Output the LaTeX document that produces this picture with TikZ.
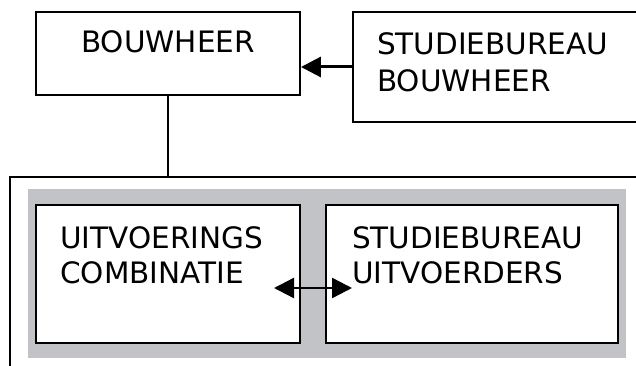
\documentclass[tikz,border=0pt]{standalone}
\usepackage{fontspec}
\setmainfont{DejaVu Sans}
\usetikzlibrary{arrows.meta,positioning}
\definecolor{vakgrijs}{RGB}{194,195,198}

\begin{document}
\begin{tikzpicture}[x=1pt,y=-1pt,
    kader/.style={draw,line width=1.9pt,fill=white,inner sep=0pt},
    tekst/.style={anchor=base west,inner sep=0pt,font=\fontsize{29.5}{35}\selectfont},
    pijlpunt/.tip={Triangle[length=20pt,width=20pt]}]
  \clip (0,0) rectangle (636,366);
  % bovenste rij
  \node[kader,minimum width=264pt,minimum height=83pt] (bouwheer) at (168,53.5) {};
  \node[kader,minimum width=297pt,minimum height=110pt] (sbb) at (501.5,67) {};
  \node[tekst,anchor=base] (tbouwheer) at (168,53) {BOUWHEER};
  \node[tekst] (tsbb1) at (377,55) {STUDIEBUREAU};
  \node[tekst] (tsbb2) at (377,92) {BOUWHEER};
  % uitvoering
  \node[draw,line width=1.3pt,minimum width=650pt,minimum height=213pt,inner sep=0pt] (uitvoering) at (335,283.5) {};
  \node[fill=vakgrijs,minimum width=598pt,minimum height=169pt,inner sep=0pt] (grijs) at (327,273.5) {};
  \node[kader,minimum width=264pt,minimum height=138pt] (combinatie) at (168,274) {};
  \node[kader,minimum width=292pt,minimum height=138pt] (sbu) at (472,274) {};
  \node[tekst] (tuc1) at (60,248) {UITVOERINGS};
  \node[tekst] (tuc2) at (60,283) {COMBINATIE};
  \node[tekst] (tsbu1) at (352,248) {STUDIEBUREAU};
  \node[tekst] (tsbu2) at (352,283) {UITVOERDERS};
  % verbindingen
  \draw[line width=3pt,-pijlpunt] (sbb.west) -- (sbb.west -| bouwheer.east);
  \draw[line width=1.5pt] (bouwheer.south) -- (bouwheer.south |- uitvoering.north);
  \coordinate (pijlL) at (274,288);
  \coordinate (pijlR) at (352,288);
  \draw[line width=2.4pt,pijlpunt-pijlpunt] (pijlL) -- (pijlR);
\end{tikzpicture}
\end{document}
